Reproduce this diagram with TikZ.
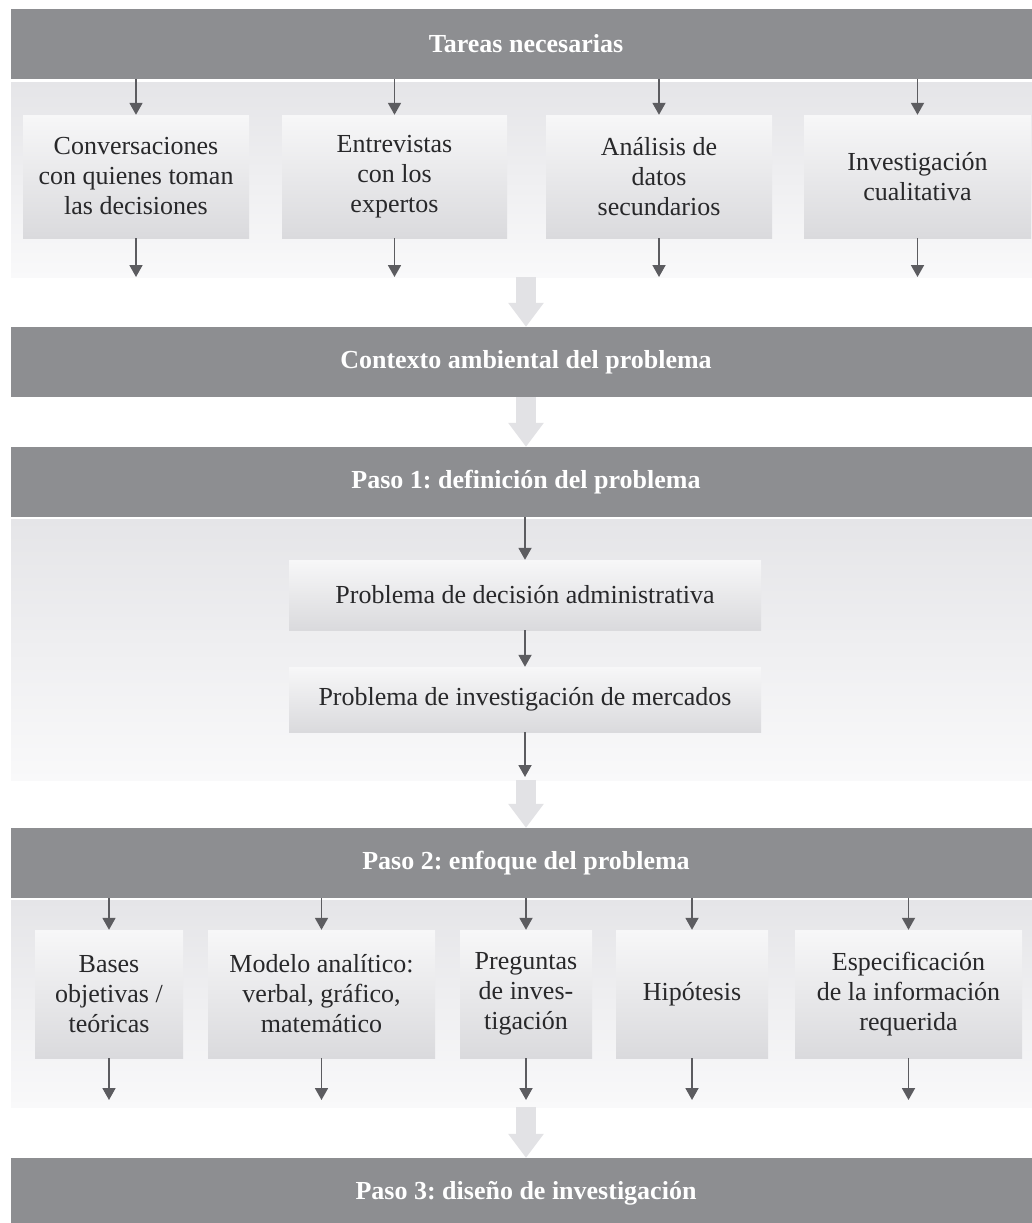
\documentclass[tikz,border=0pt]{standalone}
\usepackage{fontspec}
\setmainfont{Liberation Serif}
\frenchspacing
\usetikzlibrary{arrows.meta}
\definecolor{barcol}{RGB}{141,142,145}
\definecolor{bandtop}{RGB}{229,229,232}
\definecolor{bandbot}{RGB}{249,249,250}
\definecolor{boxtop}{RGB}{247,247,248}
\definecolor{boxbot}{RGB}{218,218,221}
\definecolor{arrcol}{RGB}{92,92,96}
\definecolor{bigcol}{RGB}{226,226,229}
\definecolor{textcol}{RGB}{40,40,42}
\tikzset{
  bar/.style={fill=barcol, text=white, font=\bfseries\fontsize{26}{30}\selectfont,
    minimum width=1030pt, minimum height=70pt, inner sep=0pt},
  band/.style={top color=bandtop, bottom color=bandbot, minimum width=1030pt, inner sep=0pt},
  box/.style={top color=boxtop, bottom color=boxbot, inner sep=0pt, align=center,
    font=\fontsize{26}{30}\selectfont, text=textcol},
  arr/.style={draw=arrcol, line width=1.8pt, -{Triangle[width=13pt,length=12pt]}},
  bigarr/.style={draw=bigcol, line width=20pt, -{Triangle[width=34pt,length=24pt]}},
}
\begin{document}
\begin{tikzpicture}[x=1pt,y=-1pt]
\useasboundingbox (0,0) rectangle (1031,1223);
\fill[white] (0,0) rectangle (1031,1223);

% bars and bands
\node[bar] (bar1) at (526,44) {Tareas necesarias};
\node[band, minimum height=195pt] (band1) at (526,179.5) {};
\node[bar] (bar2) at (526,362) {Contexto ambiental del problema};
\node[bar] (bar3) at (526,482) {Paso 1: definición del problema};
\node[band, minimum height=261pt] (band3) at (526,649.5) {};
\node[bar] (bar4) at (526,863) {Paso 2: enfoque del problema};
\node[band, minimum height=207pt] (band4) at (526,1003.5) {};
\node[bar] (bar5) at (526,1193) {Paso 3: diseño de investigación};

% row 1 boxes
\node[box, minimum width=226pt, minimum height=123pt] (b11) at (136,176.5) {Conversaciones\\con quienes toman\\las decisiones};
\node[box, minimum width=225pt, minimum height=123pt] (b12) at (394.5,176.5) {Entrevistas\\con los\\expertos};
\node[box, minimum width=226pt, minimum height=123pt] (b13) at (659,176.5) {Análisis de\\datos\\secundarios};
\node[box, minimum width=227pt, minimum height=123pt] (b14) at (917.5,176.5) {Investigación\\cualitativa};

\coordinate (e11) at (136,277);
\coordinate (e12) at (394.5,277);
\coordinate (e13) at (659,277);
\coordinate (e14) at (917.5,277);
\foreach \n in {11,12,13,14}{
  \draw[arr] (b\n.north |- bar1.south) -- (b\n.north);
  \draw[arr] (b\n.south) -- (e\n);
}

% step 1 boxes
\node[box, minimum width=472pt, minimum height=70pt] (pa) at (525,595) {Problema de decisión administrativa};
\node[box, minimum width=472pt, minimum height=65pt] (pb) at (525,699.5) {Problema de investigación de mercados};
\coordinate (epb) at (525,777);
\draw[arr] (pa.north |- bar3.south) -- (pa.north);
\draw[arr] (pa.south) -- (pb.north);
\draw[arr] (pb.south) -- (epb);

% step 2 boxes
\node[box, minimum width=148pt, minimum height=128pt] (c1) at (109,994) {Bases\\objetivas /\\teóricas};
\node[box, minimum width=227pt, minimum height=128pt] (c2) at (321.5,994) {Modelo analítico:\\verbal, gráfico,\\matemático};
\node[box, minimum width=132pt, minimum height=128pt] (c3) at (526,994) {Preguntas\\de inves-\\tigación};
\node[box, minimum width=152pt, minimum height=128pt] (c4) at (692,994) {Hipótesis};
\node[box, minimum width=227pt, minimum height=128pt] (c5) at (908.5,994) {Especificación\\de la información\\requerida};

\coordinate (f1) at (109,1100);
\coordinate (f2) at (321.5,1100);
\coordinate (f3) at (526,1100);
\coordinate (f4) at (692,1100);
\coordinate (f5) at (908.5,1100);
\foreach \n in {1,2,3,4,5}{
  \draw[arr] (c\n.north |- bar4.south) -- (c\n.north);
  \draw[arr] (c\n.south) -- (f\n);
}

% big light arrows
\draw[bigarr] (band1.south) -- (bar2.north);
\draw[bigarr] (bar2.south) -- (bar3.north);
\draw[bigarr] (band3.south) -- (bar4.north);
\draw[bigarr] (band4.south) -- (bar5.north);
\end{tikzpicture}
\end{document}
